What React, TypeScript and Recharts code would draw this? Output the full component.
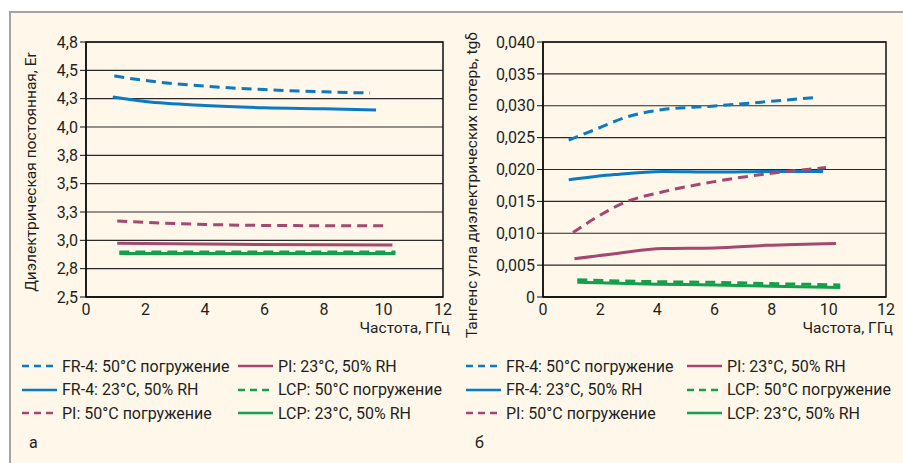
import React from 'react';
import {
  LineChart,
  Line,
  XAxis,
  YAxis,
  CartesianGrid,
  ReferenceArea,
} from 'recharts';

// frequency axis, GHz
const freqTicks = [0, 2, 4, 6, 8, 10, 12];

// Er chart
const erTicks = [2.5, 2.75, 3.0, 3.25, 3.5, 3.75, 4.0, 4.25, 4.5, 4.75];
const erTickLabels = ['2,5', '2,8', '3,0', '3,3', '3,5', '3,8', '4,0', '4,3', '4,5', '4,8'];

const erFr4Wet = [
  { x: 0.95, y: 4.45 }, { x: 2, y: 4.41 }, { x: 4, y: 4.36 },
  { x: 6, y: 4.33 }, { x: 8, y: 4.31 }, { x: 9.55, y: 4.3 },
];
const erFr4Dry = [
  { x: 0.9, y: 4.265 }, { x: 2, y: 4.225 }, { x: 4, y: 4.19 },
  { x: 6, y: 4.17 }, { x: 8, y: 4.16 }, { x: 9.75, y: 4.15 },
];
const erPiWet = [
  { x: 1.05, y: 3.17 }, { x: 4, y: 3.14 }, { x: 7, y: 3.13 }, { x: 10.05, y: 3.128 },
];
const erPiDry = [
  { x: 1.05, y: 2.975 }, { x: 5, y: 2.965 }, { x: 10.3, y: 2.958 },
];
const erLcpWet = [
  { x: 1.12, y: 2.897 }, { x: 5, y: 2.897 }, { x: 10.4, y: 2.896 },
];
const erLcpDry = [
  { x: 1.12, y: 2.884 }, { x: 5, y: 2.884 }, { x: 10.4, y: 2.883 },
];

// tg delta chart
const tgTicks = [0, 0.005, 0.01, 0.015, 0.02, 0.025, 0.03, 0.035, 0.04];
const tgTickLabels = ['0', '0,005', '0,010', '0,015', '0,020', '0,025', '0,030', '0,035', '0,040'];

const tgFr4Wet = [
  { x: 0.9, y: 0.0246 }, { x: 1.9, y: 0.0264 }, { x: 2.9, y: 0.0282 }, { x: 4.2, y: 0.0294 },
  { x: 5.8, y: 0.0299 }, { x: 7.2, y: 0.0304 }, { x: 9.55, y: 0.0313 },
];
const tgFr4Dry = [
  { x: 0.9, y: 0.0184 }, { x: 2.5, y: 0.0192 }, { x: 4.2, y: 0.0197 },
  { x: 6, y: 0.0196 }, { x: 8, y: 0.0197 }, { x: 9.8, y: 0.0197 },
];
const tgPiWet = [
  { x: 1.05, y: 0.0101 }, { x: 1.8, y: 0.0123 }, { x: 2.9, y: 0.0149 }, { x: 4.2, y: 0.0165 },
  { x: 6, y: 0.0181 }, { x: 7.8, y: 0.0193 }, { x: 9.9, y: 0.0203 },
];
const tgPiDry = [
  { x: 1.1, y: 0.006 }, { x: 2.5, y: 0.0068 }, { x: 4.2, y: 0.0076 },
  { x: 6, y: 0.0077 }, { x: 7.8, y: 0.0081 }, { x: 10.25, y: 0.0084 },
];
const tgLcpWet = [
  { x: 1.2, y: 0.0027 }, { x: 4, y: 0.0024 }, { x: 6, y: 0.0023 }, { x: 8, y: 0.0021 }, { x: 10.4, y: 0.0019 },
];
const tgLcpDry = [
  { x: 1.2, y: 0.0023 }, { x: 4, y: 0.002 }, { x: 6, y: 0.0019 }, { x: 8, y: 0.0017 }, { x: 10.4, y: 0.0015 },
];

const seriesNames = [
  'FR-4: 50°C погружение',
  'FR-4: 23°C, 50% RH',
  'PI: 50°C погружение',
  'PI: 23°C, 50% RH',
  'LCP: 50°C погружение',
  'LCP: 23°C, 50% RH',
];

const BLUE = '#0a7ac6';
const MAUVE = '#a4486f';
const GREEN = '#12a04c';
const seriesColors = [BLUE, BLUE, MAUVE, MAUVE, GREEN, GREEN];
const seriesDashed = [true, false, true, false, true, false];

const FONT = "Roboto, 'Liberation Sans', Arial, sans-serif";
const BG = '#fef7ea';
const INK = '#231f20';

interface PanelProps {
  left: number;
  width: number;
  yAxisWidth: number;
  domain: [number, number];
  ticks: number[];
  tickLabels: string[];
  series: { x: number; y: number }[][];
  yTitle: string;
  yTitleX: number;
  yTitleY: number;
  letter: string;
  letterX: number;
  legendX: [number, number];
}

const Panel: React.FC<PanelProps> = ({
  left, width, yAxisWidth, domain, ticks, tickLabels, series,
  yTitle, yTitleX, yTitleY, letter, letterX, legendX,
}) => {
  const height = 340;
  const fmt = (v: number) => {
    const i = ticks.findIndex((t) => Math.abs(t - v) < 1e-9);
    return i >= 0 ? tickLabels[i] : String(v);
  };
  const plotRight = width - 17;

  return (
    <div style={{ position: 'absolute', left, top: 0, width, height: 463 }}>
      <LineChart
        width={width}
        height={height}
        margin={{ top: 42, right: 17, bottom: 13, left: 0 }}
        style={{ fontFamily: FONT }}
      >
        <CartesianGrid vertical={false} stroke="#2a2a2a" strokeWidth={1.2} />
        <XAxis
          type="number"
          dataKey="x"
          domain={[0, 12]}
          ticks={freqTicks}
          height={30}
          tickLine={false}
          tickSize={5}
          axisLine={{ stroke: '#111', strokeWidth: 1.5 }}
          tick={{ fontSize: 16, fill: INK }}
        />
        <YAxis
          type="number"
          dataKey="y"
          domain={domain}
          ticks={ticks}
          width={yAxisWidth}
          interval={0}
          tickFormatter={fmt}
          tickSize={6}
          tickLine={{ stroke: '#111' }}
          axisLine={{ stroke: '#111', strokeWidth: 1.5 }}
          tick={{ fontSize: 16, fill: INK }}
        />
        <ReferenceArea
          x1={0}
          x2={12}
          y1={domain[0]}
          y2={domain[1]}
          fill="none"
          stroke="#111"
          strokeWidth={1.5}
          ifOverflow="visible"
        />
        {series.map((d, i) => (
          <Line
            key={seriesNames[i]}
            data={d}
            dataKey="y"
            type="monotone"
            stroke={seriesColors[i]}
            strokeWidth={3}
            strokeDasharray={seriesDashed[i] ? '10 6' : undefined}
            dot={false}
            isAnimationActive={false}
          />
        ))}
      </LineChart>

      <div
        style={{
          position: 'absolute',
          left: yTitleX,
          top: yTitleY,
          transform: 'translate(-50%, -50%) rotate(-90deg)',
          whiteSpace: 'nowrap',
          fontFamily: FONT,
          fontSize: 15.5,
          color: INK,
        }}
      >
        {yTitle}
      </div>

      <div
        style={{
          position: 'absolute',
          right: width - plotRight - 7,
          top: 319,
          lineHeight: '18px',
          whiteSpace: 'nowrap',
          fontFamily: FONT,
          fontSize: 15.5,
          color: INK,
        }}
      >
        Частота, ГГц
      </div>

      {seriesNames.map((name, i) => {
        const col = i < 3 ? 0 : 1;
        const row = i % 3;
        return (
          <div
            key={name}
            style={{
              position: 'absolute',
              left: legendX[col],
              top: 356 + row * 23.5,
              height: 20,
              display: 'flex',
              alignItems: 'center',
              whiteSpace: 'nowrap',
              fontFamily: FONT,
              fontSize: 16,
              color: INK,
            }}
          >
            <svg width={35} height={6} style={{ marginRight: 5 }}>
              <line
                x1={0}
                y1={3}
                x2={35}
                y2={3}
                stroke={seriesColors[i]}
                strokeWidth={2.5}
                strokeDasharray={seriesDashed[i] ? '7 5' : undefined}
              />
            </svg>
            {name}
          </div>
        );
      })}

      <div
        style={{
          position: 'absolute',
          left: letterX,
          top: 433,
          fontFamily: FONT,
          fontSize: 16,
          color: INK,
        }}
      >
        {letter}
      </div>
    </div>
  );
};

export default function App() {
  return (
    <div style={{ position: 'absolute', left: 0, top: 0, width: 903, height: 463, background: '#fff', overflow: 'hidden' }}>
      <div
        style={{
          position: 'absolute',
          left: 9,
          top: 11,
          width: 903,
          height: 463,
          background: BG,
          borderLeft: '2px solid #a3a3a3',
          borderTop: '2px solid #a3a3a3',
        }}
      />
      <Panel
        left={0}
        width={460}
        yAxisWidth={86}
        domain={[2.5, 4.75]}
        ticks={erTicks}
        tickLabels={erTickLabels}
        series={[erFr4Wet, erFr4Dry, erPiWet, erPiDry, erLcpWet, erLcpDry]}
        yTitle="Диэлектрическая постоянная, Er"
        yTitleX={31}
        yTitleY={172}
        letter="а"
        letterX={29}
        legendX={[22, 238]}
      />
      <Panel
        left={450}
        width={453}
        yAxisWidth={93}
        domain={[0, 0.04]}
        ticks={tgTicks}
        tickLabels={tgTickLabels}
        series={[tgFr4Wet, tgFr4Dry, tgPiWet, tgPiDry, tgLcpWet, tgLcpDry]}
        yTitle="Тангенс угла диэлектрических потерь, tgδ"
        yTitleX={22}
        yTitleY={185}
        letter="б"
        letterX={25}
        legendX={[16, 237]}
      />
    </div>
  );
}
